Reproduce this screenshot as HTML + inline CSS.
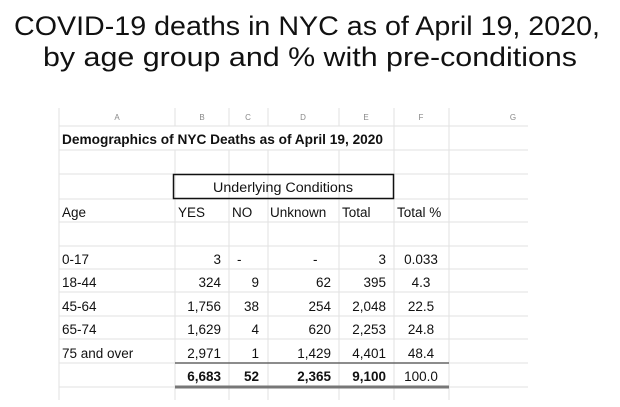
<!DOCTYPE html>
<html><head><meta charset="utf-8"><style>
html,body{margin:0;padding:0;background:#fff;}
svg{display:block;}
text{font-family:"Liberation Sans",sans-serif;fill:#111;}
</style></head><body>
<svg width="620" height="407" viewBox="0 0 620 407">
<rect width="620" height="407" fill="#fff"/>
<text x="14" y="35" font-size="27" textLength="586" lengthAdjust="spacingAndGlyphs">COVID-19 deaths in NYC as of April 19, 2020,</text>
<text x="43" y="66" font-size="27" textLength="534" lengthAdjust="spacingAndGlyphs">by age group and % with pre-conditions</text>
<g stroke="#e2e2e2" stroke-width="1">
<line x1="59" y1="108" x2="59" y2="400"/>
<line x1="175" y1="150" x2="175" y2="400"/>
<line x1="229" y1="150" x2="229" y2="400"/>
<line x1="268" y1="150" x2="268" y2="400"/>
<line x1="339" y1="150" x2="339" y2="400"/>
<line x1="394" y1="108" x2="394" y2="400"/>
<line x1="449" y1="108" x2="449" y2="400"/>
<line x1="175" y1="108" x2="175" y2="126"/>
<line x1="229" y1="108" x2="229" y2="126"/>
<line x1="268" y1="108" x2="268" y2="126"/>
<line x1="339" y1="108" x2="339" y2="126"/>
<line x1="59" y1="126" x2="528" y2="126"/>
<line x1="59" y1="150" x2="528" y2="150"/>
<line x1="59" y1="174" x2="528" y2="174"/>
<line x1="59" y1="199" x2="528" y2="199"/>
<line x1="59" y1="222" x2="528" y2="222"/>
<line x1="59" y1="246" x2="528" y2="246"/>
<line x1="59" y1="269" x2="528" y2="269"/>
<line x1="59" y1="292" x2="528" y2="292"/>
<line x1="59" y1="316" x2="528" y2="316"/>
<line x1="59" y1="339" x2="528" y2="339"/>
<line x1="59" y1="363" x2="528" y2="363"/>
<line x1="59" y1="387" x2="528" y2="387"/>
</g>
<g font-size="8" text-anchor="middle" fill="#888">
<text x="117" y="120" style="fill:#888">A</text><text x="202" y="120" style="fill:#888">B</text><text x="248" y="120" style="fill:#888">C</text><text x="303" y="120" style="fill:#888">D</text><text x="366" y="120" style="fill:#888">E</text><text x="421" y="120" style="fill:#888">F</text><text x="513" y="120" style="fill:#888">G</text>
</g>
<text x="62" y="144" font-size="13.5" font-weight="bold" textLength="321" lengthAdjust="spacingAndGlyphs">Demographics of NYC Deaths as of April 19, 2020</text>
<rect x="173.5" y="174.5" width="220" height="24" fill="none" stroke="#111" stroke-width="1.5"/>
<text x="283" y="192" font-size="13.5" text-anchor="middle" textLength="140" lengthAdjust="spacingAndGlyphs">Underlying Conditions</text>
<g font-size="13.5">
<text x="62" y="217">Age</text><text x="178" y="217">YES</text><text x="232" y="217">NO</text><text x="270" y="217">Unknown</text><text x="342" y="217">Total</text><text x="397" y="217">Total %</text>
<text x="62" y="264">0-17</text><text x="62" y="287">18-44</text><text x="62" y="311">45-64</text><text x="62" y="334">65-74</text><text x="62" y="358">75 and over</text>
</g>
<g font-size="13.5" text-anchor="end">
<text x="221" y="264">3</text><text x="221" y="287">324</text><text x="221" y="311">1,756</text><text x="221" y="334">1,629</text><text x="221" y="358">2,971</text>
<text x="259" y="287">9</text><text x="259" y="311">38</text><text x="259" y="334">4</text><text x="259" y="358">1</text>
<text x="331" y="287">62</text><text x="331" y="311">254</text><text x="331" y="334">620</text><text x="331" y="358">1,429</text>
<text x="386" y="264">3</text><text x="386" y="287">395</text><text x="386" y="311">2,048</text><text x="386" y="334">2,253</text><text x="386" y="358">4,401</text>
</g>
<text x="237" y="264" font-size="13.5">-</text><text x="313" y="264" font-size="13.5">-</text>
<g font-size="13.5" text-anchor="middle">
<text x="421" y="264">0.033</text><text x="421" y="287">4.3</text><text x="421" y="311">22.5</text><text x="421" y="334">24.8</text><text x="421" y="358">48.4</text><text x="421" y="381">100.0</text>
</g>
<g font-size="13.5" font-weight="bold" text-anchor="end">
<text x="221" y="381">6,683</text><text x="259" y="381">52</text><text x="331" y="381">2,365</text><text x="386" y="381">9,100</text>
</g>
<line x1="175" y1="363" x2="449" y2="363" stroke="#666" stroke-width="1.5"/>
<line x1="175" y1="387" x2="449" y2="387" stroke="#777" stroke-width="3"/>
</svg>
</body></html>
